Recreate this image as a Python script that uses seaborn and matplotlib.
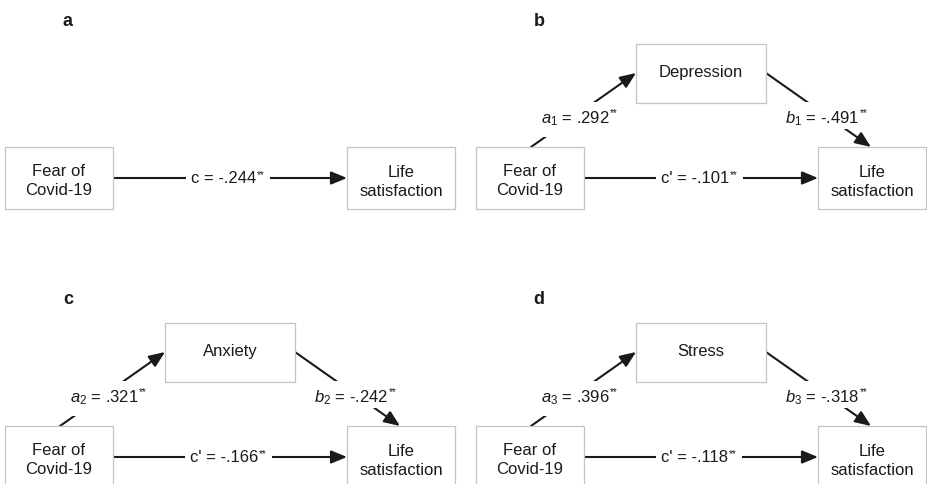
import matplotlib
matplotlib.use("Agg")
import matplotlib.pyplot as plt
import matplotlib.patches as mpatches
import seaborn as sns

# path model values (mediation of fear of covid -> life satisfaction)
panel_letters = ["a", "b", "c", "d"]
mediators = [None, "Depression", "Anxiety", "Stress"]
a_index = [None, "1", "2", "3"]
a_paths = [None, ".292", ".321", ".396"]
b_paths = [None, "-.491", "-.242", "-.318"]
direct_names = ["c", "c'", "c'", "c'"]
direct_paths = ["-.244", "-.101", "-.166", "-.118"]
stars = ["**", "**", "**", "**"]
predictor = "Fear of\nCovid-19"
outcome = "Life\nsatisfaction"

sns.set_theme(style="white")
plt.rcParams["font.family"] = ["Liberation Sans", "DejaVu Sans"]
plt.rcParams["mathtext.fontset"] = "custom"
plt.rcParams["mathtext.rm"] = "Liberation Sans"
plt.rcParams["mathtext.it"] = "Liberation Sans:italic"

fig = plt.figure(figsize=(9.27, 4.85), dpi=100)
ax = fig.add_axes([0, 0, 1, 1])
ax.set_xlim(0, 927)
ax.set_ylim(485, 0)
ax.axis("off")

# layout of one panel (pixels, relative to the panel origin)
origins = [(0, 0), (471, 0), (0, 279), (471, 279)]
fear_box = (5, 148, 108, 62)
life_box = (347, 148, 108, 62)
med_box = (165, 45, 130, 59)
edge = "#c4c4c4"
ink = "#1a1a1a"
fs = 12

labels = []


def box(x0, y0, b):
    ax.add_patch(mpatches.Rectangle((x0 + b[0], y0 + b[1]), b[2], b[3],
                                    fc="white", ec=edge, lw=0.9, zorder=2))


def arrow(p, q):
    ax.annotate("", xy=q, xytext=p,
                arrowprops=dict(arrowstyle="-|>,head_length=0.8,head_width=0.33",
                                color=ink, lw=1.5, mutation_scale=12,
                                shrinkA=0, shrinkB=0), zorder=1)


def label(x, y, s, star, pad_bottom):
    t = ax.text(x, y, s, ha="center", va="center", fontsize=fs, color=ink,
                zorder=5)
    st = ax.annotate(star, xy=(1, 1), xycoords=t, xytext=(0.5, 1),
                     textcoords="offset points", ha="left", va="top",
                     fontsize=7, color=ink, zorder=6)
    labels.append((t, st, pad_bottom))


for i, (ox, oy) in enumerate(origins):
    ax.text(ox + 68, oy + 21, panel_letters[i], ha="center", va="center",
            fontsize=13, fontweight="bold", color=ink)

    box(ox, oy, fear_box)
    box(ox, oy, life_box)
    ax.text(ox + 59, oy + 181, predictor, ha="center", va="center",
            fontsize=fs, color=ink, linespacing=1.3, zorder=5)
    ax.text(ox + 401, oy + 182, outcome, ha="center", va="center",
            fontsize=fs, color=ink, linespacing=1.3, zorder=5)

    # direct path
    arrow((ox + 113, oy + 179), (ox + 347, oy + 179))
    label(ox + 224, oy + 179, f"{direct_names[i]} = {direct_paths[i]}", stars[i], 4)

    if mediators[i] is None:
        continue

    box(ox, oy, med_box)
    ax.text(ox + 230, oy + 73, mediators[i], ha="center", va="center",
            fontsize=fs, color=ink, zorder=5)

    # a path and b path
    arrow((ox + 60, oy + 148), (ox + 165, oy + 74))
    arrow((ox + 295, oy + 74), (ox + 400, oy + 148))
    label(ox + 104, oy + 119, rf"$a_{{\mathit{{{a_index[i]}}}}}$ = {a_paths[i]}", stars[i], 10)
    label(ox + 351, oy + 119, rf"$b_{{\mathit{{{a_index[i]}}}}}$ = {b_paths[i]}", stars[i], 2)

# white gaps in the paths behind each coefficient label
renderer = fig.canvas.get_renderer()
inv = ax.transData.inverted()
for t, st, pb in labels:
    e1 = t.get_window_extent(renderer)
    e2 = st.get_window_extent(renderer)
    (x0, y1), (x1, y0) = inv.transform([(min(e1.x0, e2.x0), min(e1.y0, e2.y0)),
                                        (max(e1.x1, e2.x1), max(e1.y1, e2.y1))])
    ax.add_patch(mpatches.Rectangle((x0 - 5, y0 - 5), x1 - x0 + 10, y1 - y0 + 5 + pb,
                                    fc="white", ec="none", zorder=4))

fig.savefig("out.png", dpi=100)
